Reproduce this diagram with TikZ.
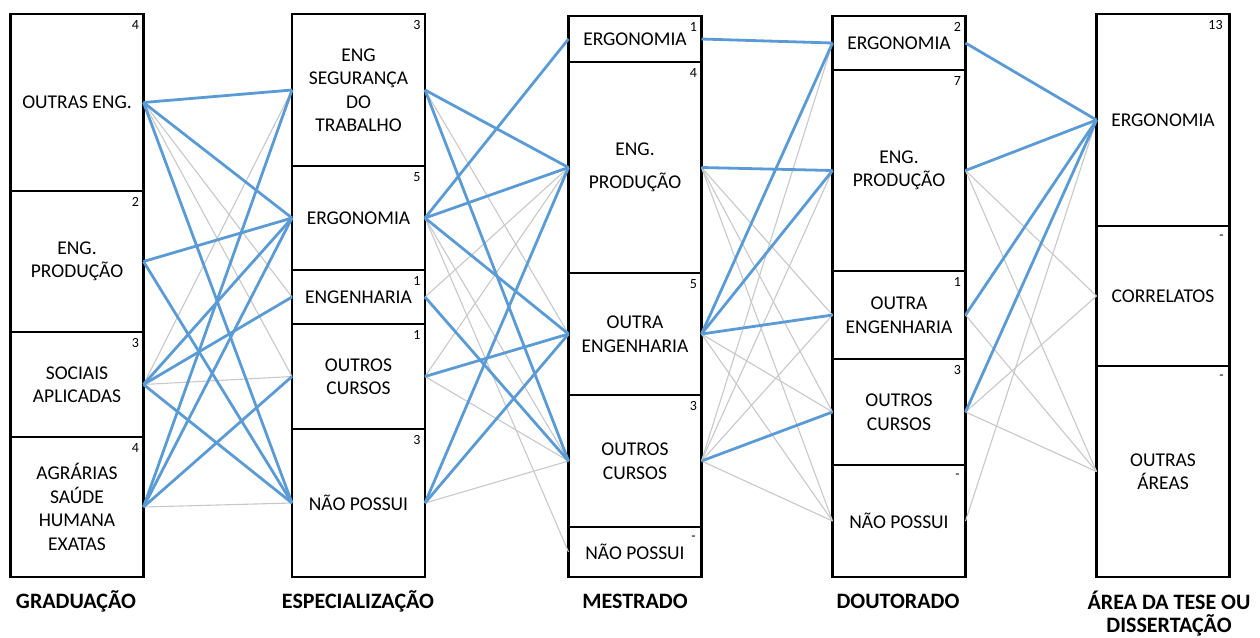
\documentclass[tikz,border=0pt]{standalone}
\usepackage{fontspec}
\setmainfont{Carlito}
\definecolor{lblue}{HTML}{5B9BD5}
\definecolor{lgray}{HTML}{C8C8C8}
\begin{document}
\begin{tikzpicture}[x=1pt,y=-1pt,
  box/.style={draw, line width=2.6pt, minimum width=133pt, inner sep=0pt, outer sep=0pt, align=center, font=\fontsize{19.5}{23.5}\selectfont},
  num/.style={font=\fontsize{14}{14}\selectfont, inner sep=0pt},
  captext/.style={font=\bfseries\fontsize{22}{23}\selectfont, align=center, inner sep=0pt},
  bl/.style={draw=lblue, line width=2.8pt},
  gr/.style={draw=lgray, line width=1.1pt}]
\useasboundingbox (0,0) rectangle (1260,637);
% Graduacao
\node[box, minimum height=177] (g1) at (77,102.5) {OUTRAS ENG.};
\node[box, minimum height=141] (g2) at (77,261.5) {ENG.\\PRODUÇÃO};
\node[box, minimum height=105] (g3) at (77,384.5) {SOCIAIS\\APLICADAS};
\node[box, minimum height=140] (g4) at (77,507) {AGRÁRIAS\\SAÚDE\\HUMANA\\EXATAS};
% Especializacao
\node[box, minimum height=152] (s1) at (358.5,90) {ENG\\SEGURANÇA\\DO\\TRABALHO};
\node[box, minimum height=104] (s2) at (358.5,218) {ERGONOMIA};
\node[box, minimum height=54] (s3) at (358.5,297) {ENGENHARIA};
\node[box, minimum height=105] (s4) at (358.5,376.5) {OUTROS\\CURSOS};
\node[box, minimum height=148] (s5) at (358.5,503) {NÃO POSSUI};
% Mestrado
\node[box, minimum height=46] (m1) at (635,39) {ERGONOMIA};
\node[box, minimum height=211] (m2) at (635,167.5) {ENG.\\[9pt]PRODUÇÃO};
\node[box, minimum height=122] (m3) at (635,334) {OUTRA\\ENGENHARIA};
\node[box, minimum height=132] (m4) at (635,461) {OUTROS\\CURSOS};
\node[box, minimum height=50] (m5) at (635,552) {NÃO POSSUI};
% Doutorado
\node[box, minimum height=54] (d1) at (899,43) {ERGONOMIA};
\node[box, minimum height=201] (d2) at (899,170.5) {ENG.\\PRODUÇÃO};
\node[box, minimum height=88] (d3) at (899,315) {OUTRA\\ENGENHARIA};
\node[box, minimum height=106] (d4) at (899,412) {OUTROS\\CURSOS};
\node[box, minimum height=112] (d5) at (899,521) {NÃO POSSUI};
% Area
\node[box, minimum height=212] (a1) at (1163,120) {ERGONOMIA};
\node[box, minimum height=140] (a2) at (1163,296) {CORRELATOS};
\node[box, minimum height=211] (a3) at (1163,471.5) {OUTRAS\\ÁREAS};
% counts
\foreach \n/\t in {g1/4,g2/2,g3/3,g4/4,s1/3,s2/5,s3/1,s4/1,s5/3,m1/1,m2/4,m3/5,m4/3,m5/-,d1/2,d2/7,d3/1,d4/3,d5/-,a2/-,a3/-}
  \node[num] (\n c) at ([shift={(-8,11)}]\n.north east) {\t};
\node[num] (a1c) at ([shift={(-14,11)}]a1.north east) {13};
% gray connectors
\foreach \a/\b in {g1/s3,g1/s4,g3/s1,g3/s4,g4/s5,
  s1/m3,s2/m4,s2/m5,s3/m2,s4/m2,s4/m4,s5/m4,
  m2/d3,m2/d4,m2/d5,m3/d4,m3/d5,m4/d1,m4/d2,m4/d3,m4/d5,
  d2/a2,d2/a3,d3/a3,d4/a2,d4/a3,d5/a1}
  \draw[gr] (\a.east) -- (\b.west);
% blue connectors
\foreach \a/\b in {g1/s1,g1/s2,g1/s5,g2/s2,g2/s5,g3/s2,g3/s3,g3/s5,g4/s1,g4/s2,g4/s4,
  s1/m2,s1/m4,s2/m1,s2/m2,s2/m3,s3/m4,s4/m3,s5/m2,s5/m3,
  m1/d1,m2/d2,m3/d1,m3/d2,m3/d3,m4/d4,
  d1/a1,d2/a1,d3/a1,d4/a1}
  \draw[bl] (\a.east) -- (\b.west);
% captions
\node[captext] (t1) at (76,601) {GRADUAÇÃO};
\node[captext] (t2) at (358,601) {ESPECIALIZAÇÃO};
\node[captext] (t3) at (635,601) {MESTRADO};
\node[captext] (t4) at (898,601) {DOUTORADO};
\node[captext, anchor=north] (t5) at (1169,591) {ÁREA DA TESE OU\\DISSERTAÇÃO};
\end{tikzpicture}
\end{document}
